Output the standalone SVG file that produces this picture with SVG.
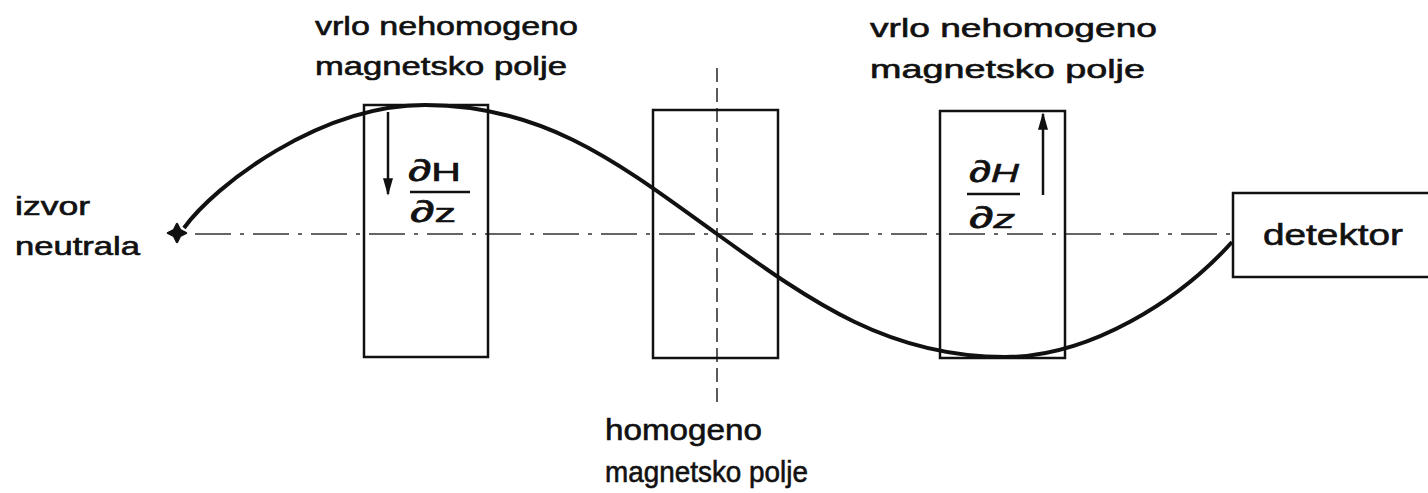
<svg xmlns="http://www.w3.org/2000/svg" width="1428" height="493" viewBox="0 0 1428 493">
<style>
.lbl{font-family:"Liberation Sans",Arial,sans-serif;fill:#111;stroke:#111;stroke-width:0.6;}
.box{fill:none;stroke:#111;stroke-width:2.5;}
.axis{fill:none;stroke:#333;stroke-width:1.6;stroke-dasharray:36 9 4 9;}
.vaxis{fill:none;stroke:#333;stroke-width:1.6;stroke-dasharray:14 6;}
.frac{font-family:"Liberation Sans","DejaVu Sans",sans-serif;fill:#111;stroke:#111;stroke-width:0.6;}
.arr{fill:none;stroke:#111;stroke-width:2.5;}
</style>
<defs>
<marker id="ah" viewBox="0 0 10 10" refX="9" refY="5" markerWidth="7" markerHeight="4" markerUnits="strokeWidth" orient="auto" preserveAspectRatio="none">
<path d="M0,0 L10,5 L0,10 z" fill="#111"/>
</marker>
</defs>
<g id="axes">
<line class="axis" x1="195" y1="234" x2="1232" y2="234"/>
<line class="vaxis" x1="717" y1="68" x2="717" y2="408"/>
</g>
<g id="source">
<path d="M177,224 L180,230 L186,233 L180,236 L177,242 L174,236 L168,233 L174,230 z" fill="#111" stroke="#111" stroke-width="2.5" stroke-linejoin="round"/>
<text class="lbl" font-size="25" x="15" y="215" textLength="75" lengthAdjust="spacingAndGlyphs">izvor</text>
<text class="lbl" font-size="25" x="15" y="255" textLength="125" lengthAdjust="spacingAndGlyphs">neutrala</text>
</g>
<g id="magnet1">
<rect class="box" x="364" y="105" width="124" height="252"/>
<line class="arr" x1="388" y1="112" x2="388" y2="194" marker-end="url(#ah)"/>
<text class="frac" font-size="26" x="408" y="181" textLength="53" lengthAdjust="spacingAndGlyphs"><tspan font-size="30">∂</tspan>H</text>
<line x1="410" y1="192" x2="470" y2="192" stroke="#111" stroke-width="2.5"/>
<text class="frac" font-size="26" x="410" y="222" textLength="46" lengthAdjust="spacingAndGlyphs"><tspan font-size="30">∂</tspan>z</text>
<text class="lbl" font-size="26" x="315" y="35" textLength="263" lengthAdjust="spacingAndGlyphs">vrlo nehomogeno</text>
<text class="lbl" font-size="26" x="315" y="75" textLength="252" lengthAdjust="spacingAndGlyphs">magnetsko polje</text>
</g>
<g id="magnet2">
<rect class="box" x="653" y="110" width="125" height="248"/>
<text class="lbl" font-size="30" x="605" y="440" textLength="157" lengthAdjust="spacingAndGlyphs">homogeno</text>
<text class="lbl" font-size="30" x="605" y="482" textLength="203" lengthAdjust="spacingAndGlyphs">magnetsko polje</text>
</g>
<g id="magnet3">
<rect class="box" x="940" y="111" width="125" height="247"/>
<line class="arr" x1="1043" y1="195" x2="1043" y2="114" marker-end="url(#ah)"/>
<text class="frac" font-size="26" font-style="italic" x="969" y="182" textLength="50" lengthAdjust="spacingAndGlyphs"><tspan font-size="30">∂</tspan>H</text>
<line x1="967" y1="194" x2="1020" y2="194" stroke="#111" stroke-width="2.5"/>
<text class="frac" font-size="26" font-style="italic" x="969" y="228" textLength="46" lengthAdjust="spacingAndGlyphs"><tspan font-size="30">∂</tspan>z</text>
<text class="lbl" font-size="26" x="870" y="37" textLength="287" lengthAdjust="spacingAndGlyphs">vrlo nehomogeno</text>
<text class="lbl" font-size="26" x="870" y="78" textLength="275" lengthAdjust="spacingAndGlyphs">magnetsko polje</text>
</g>
<g id="detector">
<rect class="box" x="1233" y="193" width="210" height="84"/>
<text class="lbl" font-size="29" x="1263" y="245" textLength="140" lengthAdjust="spacingAndGlyphs">detektor</text>
</g>
<g id="connectors">
<path d="M184,228 C215,185 320,105 425,105 C545,105 620,164 717,234 C814,304 890,357 1005,357 C1090,357 1180,300 1232,242" fill="none" stroke="#111" stroke-width="4"/>
</g>
</svg>
